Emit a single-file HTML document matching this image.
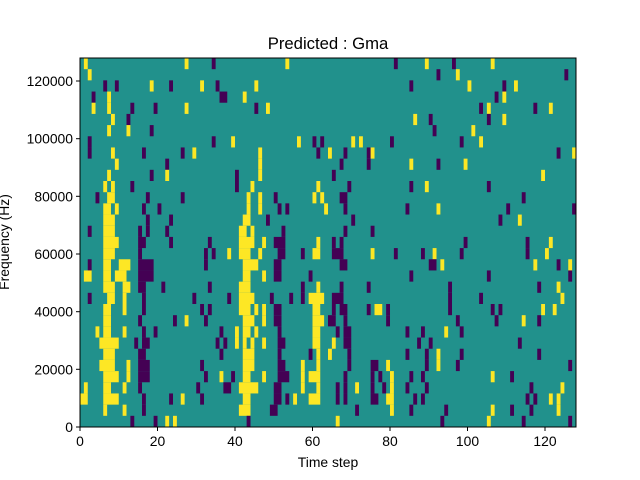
<!DOCTYPE html>
<html><head><meta charset="utf-8"><style>
html,body{margin:0;padding:0;background:#fff;}
svg{display:block;font-family:"Liberation Sans","DejaVu Sans",sans-serif;}
</style></head><body>
<svg id="s" width="640" height="480" viewBox="0 0 640 480" xmlns="http://www.w3.org/2000/svg">
<rect x="80" y="58" width="496" height="369" fill="#21918c"/>
<g id="cells"></g>
<rect x="80" y="58" width="496" height="369" fill="none" stroke="#000" stroke-width="1"/>
<g stroke="#000" stroke-width="1">
<line x1="80" y1="427" x2="80" y2="431"/><line x1="157.5" y1="427" x2="157.5" y2="431"/><line x1="235" y1="427" x2="235" y2="431"/><line x1="312.5" y1="427" x2="312.5" y2="431"/><line x1="390" y1="427" x2="390" y2="431"/><line x1="467.5" y1="427" x2="467.5" y2="431"/><line x1="545" y1="427" x2="545" y2="431"/>
<line x1="76" y1="427" x2="80" y2="427"/><line x1="76" y1="369.3" x2="80" y2="369.3"/><line x1="76" y1="311.7" x2="80" y2="311.7"/><line x1="76" y1="254" x2="80" y2="254"/><line x1="76" y1="196.3" x2="80" y2="196.3"/><line x1="76" y1="138.7" x2="80" y2="138.7"/><line x1="76" y1="81" x2="80" y2="81"/>
</g>
<g font-size="13.9" fill="#000" text-anchor="middle">
<text x="80" y="446">0</text><text x="157.5" y="446">20</text><text x="235" y="446">40</text><text x="312.5" y="446">60</text><text x="390" y="446">80</text><text x="467.5" y="446">100</text><text x="545" y="446">120</text>
<text x="328" y="467">Time step</text>
</g>
<g font-size="13.9" fill="#000" text-anchor="end">
<text x="73" y="432">0</text><text x="73" y="374.3">20000</text><text x="73" y="316.7">40000</text><text x="73" y="259">60000</text><text x="73" y="201.3">80000</text><text x="73" y="143.7">100000</text><text x="73" y="86">120000</text>
</g>
<text transform="translate(9,242) rotate(-90)" font-size="13.9" text-anchor="middle">Frequency (Hz)</text>
<text x="328" y="49" font-size="16.7" text-anchor="middle">Predicted : Gma</text>
</svg>
<script>
var rows=[
"Y1 Y27 P34 Y53 P81 Y89 P96 Y106",
"Y2 P92 Y97 P125",
"P6 P9 Y18 P23 Y31 P35 Y45 P85 Y100 P109 Y112",
"P3 Y7 P36-37 Y42 P107 Y109",
"Y3 Y7 P13 P19 Y27 P45 Y48 P103 Y105 P117 Y121",
"Y8 P12 Y86 P90 P105 Y109",
"Y7 Y12 P18 P91 Y101",
"P2 P34 Y39 Y56 P60 P62 Y70 Y72 P80 P98 Y103",
"P2 Y8 P16 P26 Y29 Y46 P61 Y64 P68 P74 Y75 P123 Y127",
"Y9 P22 Y46 P67 P74 Y85 P92 Y99",
"Y7 P18 Y22 P40 Y46 P65 Y119",
"Y6 Y8 P13 P40 Y44 Y61 P69 P85 Y89 P105",
"P4 Y7-8 P17 P26 Y43 Y46 P50 Y60 Y62 P67-68 P114",
"Y6-7 Y9 P16 P20 Y43 Y46 P51 P53 Y63 P68 P84 Y92 P110 P127",
"Y6-8 P17 P23 Y42-43 P48 P70 P108 Y113",
"P2 Y6-8 P15 P17 P22 Y41-42 Y44 P52 P68 P75",
"Y6-9 P15-16 P23 P33 Y41-44 Y47 P50-52 Y61 P65 P67 P99 P115 Y121",
"Y6-8 P15 P32 P34 Y38 Y41-43 Y46 P51-52 P57 Y60-61 P65-67 Y75 P81 P88 Y91 P98 P115 Y120",
"P2 Y6-7 Y10-12 P15-18 P32 Y42-45 P50-51 P67-68 P90-91 Y93 Y117 P123 Y126",
"Y1-2 Y6-7 Y9-11 P15-18 Y42-43 Y47 P50-51 P59 P85 P105 P126",
"Y6-8 Y11-12 P15-16 P21 P33 Y41-43 P57 Y61 P67 P74 P95 P118 Y123",
"P2 Y7-8 Y11 P16 P29 P38 Y41-44 P49 P54 P57 Y59-62 P65-67 P95 P103 Y124",
"Y6-7 Y11 P16 P31 P33 Y41-43 Y45 Y47 P50-51 Y60-61 P65 P67-68 P74 Y76-77 P79 P95 P106 P108 Y119 Y122",
"Y6-7 P15 P24 Y27 P32 Y42-44 Y47 P50-51 Y60-62 P64-65 P68 P79 P97 P107 Y114 P118",
"Y4 Y6-7 Y11 P16 P19 P36 Y40 Y42-43 Y45 P51 Y60-61 P66 P68-69 P84 P88 Y94 P98",
"Y5-9 P14 P16-17 P35 P37 Y40 Y42 Y44 Y47 P51-52 Y60-61 Y65 P68-69 P87 P90 P113",
"Y6-8 P15-16 P36 Y42-44 P51 P59 Y61 Y64 P69 P84 P89 Y92 P98 P118",
"Y5-8 Y12 P15-17 P31 Y42-44 P51-52 Y57 Y61 P69 P75-76 Y79 P89 Y92 P97 P126",
"Y6-9 Y12 P15-17 P32 Y36 P39 Y42-43 Y47 P51-53 Y57 Y59-61 P68 P75 P77 Y80 P85 P88 Y106 P111",
"Y1 Y6-7 Y11 P15 P30 P37-38 Y41-45 P50-51 Y57 Y61 P66 P68 Y71 P75 P78 Y80 P84 P89 P116 Y124",
"Y0-1 Y6-9 P16 P23 Y26 P31 Y42-43 P50-51 P53 Y55 Y59-61 P66 P68 P75-76 Y79-80 P86 P88 P115 P117 Y121 Y123",
"Y6 Y11 P16 Y41-43 P49-50 P71 Y80 P85 P94 Y106 P111 P116 Y123",
"P13 P19 Y22 Y24 P43 Y66 P93 Y105 P114 P126"
];
var g=document.getElementById('cells'),ns='http://www.w3.org/2000/svg';
var cw=496/128,rh=369/33,h='';
rows.forEach(function(r,i){r.split(' ').forEach(function(t){if(!t)return;
var c=t[0]=='Y'?'#fde725':'#440154',p=t.slice(1).split('-'),a=+p[0],b=p.length>1?+p[1]:a;
h+='<rect x="'+(80+a*cw).toFixed(2)+'" y="'+(58+i*rh).toFixed(2)+'" width="'+((b-a+1)*cw).toFixed(2)+'" height="'+rh.toFixed(2)+'" fill="'+c+'"/>';});});
g.innerHTML=h;
</script>
</body></html>
